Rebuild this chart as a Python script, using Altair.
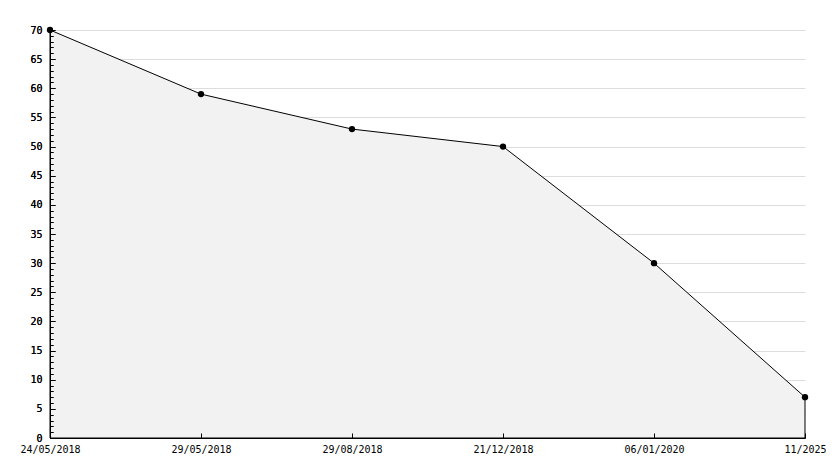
import altair as alt
import pandas as pd

dates = ["24/05/2018", "29/05/2018", "29/08/2018", "21/12/2018", "06/01/2020", "11/2025"]
values = [70, 59, 53, 50, 30, 7]

df = pd.DataFrame({"date": dates, "value": values})

FONT = "DejaVu Sans Mono"

x_scale = alt.Scale(type="point", padding=0)
y_scale = alt.Scale(domain=[0, 70], nice=False, zero=True)

x_enc = alt.X(
    "date:O",
    sort=None,
    scale=x_scale,
    axis=alt.Axis(
        title=None,
        orient="bottom",
        labelAngle=0,
        labelFont=FONT,
        labelFontSize=10,
        labelColor="black",
        domainColor="black",
        tickColor="black",
        tickSize={"expr": "-5"},
        labelPadding=11,
        grid=False,
        zindex=1,
    ),
)

y_enc = alt.Y(
    "value:Q",
    scale=y_scale,
    axis=alt.Axis(
        title=None,
        orient="left",
        values=list(range(0, 71)),
        labelExpr="datum.value % 5 === 0 ? datum.label : ''",
        labelFont=FONT,
        labelFontSize=10,
        labelColor="black",
        domainColor="black",
        tickColor="black",
        tickSize={"expr": "datum.value % 5 === 0 ? -5 : -3"},
        labelPadding=13,
        grid=False,
        labelOverlap=False,
        zindex=1,
    ),
)

y_grid = alt.Y(
    "value:Q",
    scale=y_scale,
    axis=alt.Axis(
        title=None,
        orient="left",
        values=list(range(0, 71, 5)),
        labels=False,
        ticks=False,
        domain=False,
        grid=True,
        gridColor="#dddddd",
        zindex=0,
    ),
)

base = alt.Chart(df).encode(x=x_enc, y=y_enc)

area = base.mark_area(color="#f2f2f2", stroke="black", strokeWidth=1, opacity=1)
points = base.mark_point(filled=True, color="black", size=40, opacity=1)

grid_layer = alt.Chart(df).mark_point(opacity=0).encode(
    x=alt.X("date:O", sort=None, scale=x_scale),
    y=y_grid,
)

chart = (
    alt.layer(area, points, grid_layer)
    .resolve_axis(y="independent")
    .properties(
        width=755,
        height=408,
        autosize=alt.AutoSizeParams(type="none"),
        padding={"left": 42, "top": 22, "right": 21, "bottom": 22},
    )
    .configure_view(stroke=None)
)

chart.save("out.html", embed_options={"renderer": "svg", "actions": False})
